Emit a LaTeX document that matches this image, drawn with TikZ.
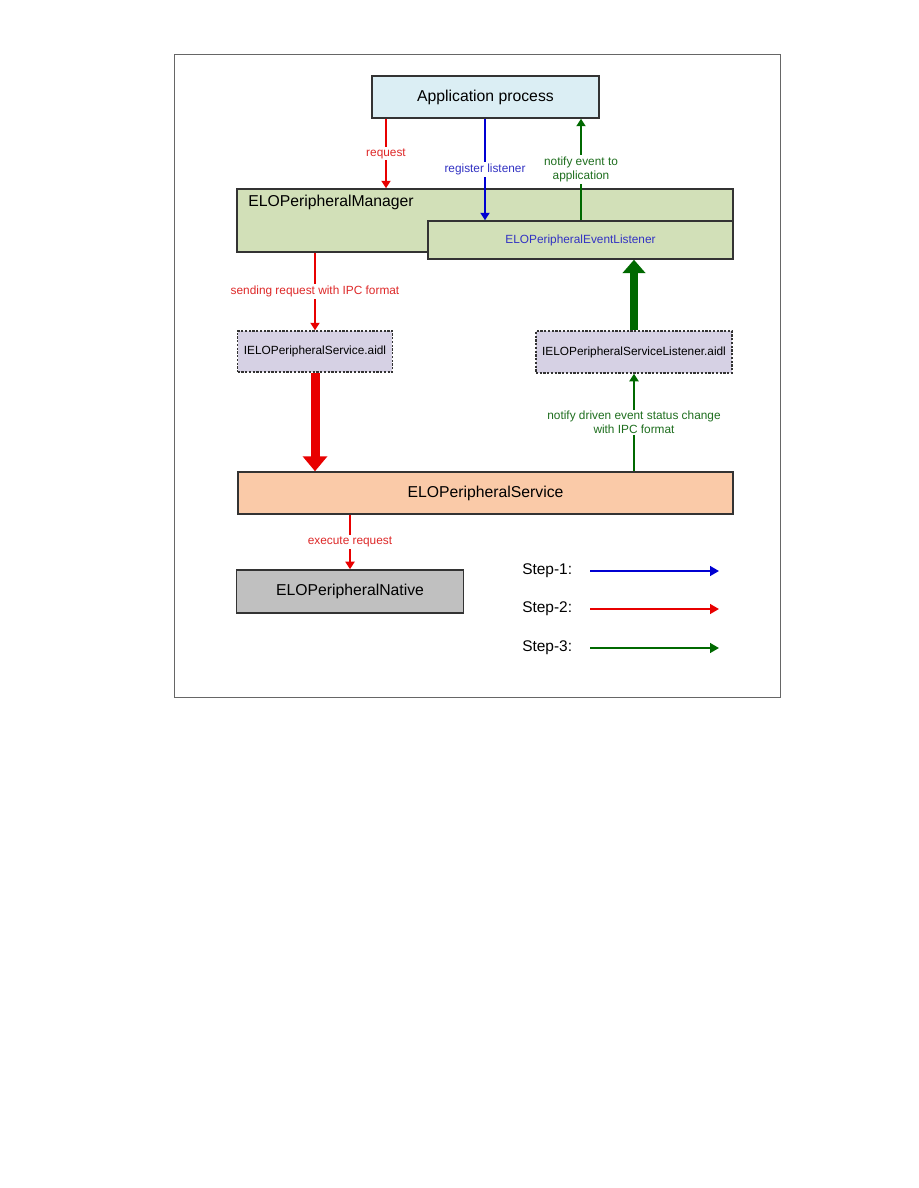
\documentclass[tikz,border=0pt]{standalone}
\usepackage{fontspec}
\setmainfont{Liberation Sans}
\usetikzlibrary{arrows.meta}

\definecolor{appfill}{RGB}{219,238,244}
\definecolor{mgrfill}{RGB}{210,224,184}
\definecolor{aidlfill}{RGB}{214,209,228}
\definecolor{srvfill}{RGB}{250,202,168}
\definecolor{ntvfill}{RGB}{192,192,192}
\definecolor{stepred}{RGB}{232,0,0}
\definecolor{stepblue}{RGB}{0,0,210}
\definecolor{stepgreen}{RGB}{0,105,0}
\definecolor{lblred}{RGB}{222,40,40}
\definecolor{lblblue}{RGB}{50,50,195}
\definecolor{lblgreen}{RGB}{30,110,30}

\begin{document}
\begin{tikzpicture}[x=0.6667pt,y=-0.6667pt,
    box/.style={draw=black!80,line width=1pt,inner sep=0pt,font=\fontsize{10.5}{12}\selectfont},
    aidl/.style={box,fill=aidlfill,dash pattern=on 1.5pt off 1pt,font=\fontsize{7.9}{9}\selectfont},
    flow/.style={line width=1.2pt,-{Triangle[width=6pt,length=5pt]}},
    bigflow/.style={line width=6pt,-{Triangle[width=16pt,length=10pt]}},
    lbl/.style={fill=white,inner sep=1pt,align=center,font=\fontsize{7.9}{9.5}\selectfont}]
    \useasboundingbox (0,0) rectangle (918,1188);
    \draw[black!60,line width=0.6pt] (174,54) rectangle (780,697);

    % boxes
    \node[box,fill=appfill,minimum width=151.3pt,minimum height=28pt] (app) at (485.5,97) {Application process};
    \node[box,fill=mgrfill,minimum width=330.7pt,minimum height=42pt] (mgr) at (485,220.5) {};
    \node[anchor=west,inner sep=0pt,font=\fontsize{10.5}{12}\selectfont] (mgrname) at (248,202) {ELOPeripheralManager};
    \node[box,fill=mgrfill,text=lblblue,font=\fontsize{7.9}{9}\selectfont,minimum width=203.3pt,minimum height=25.3pt] (lst) at (580.5,240) {ELOPeripheralEventListener};
    \node[aidl,minimum width=103.3pt,minimum height=27.3pt] (aidlsrv) at (315,351.5) {IELOPeripheralService.aidl};
    \node[aidl,minimum width=130.7pt,minimum height=28pt] (aidllst) at (634,352) {IELOPeripheralServiceListener.aidl};
    \node[box,fill=srvfill,minimum width=330pt,minimum height=28pt] (srv) at (485.5,493) {ELOPeripheralService};
    \node[box,fill=ntvfill,minimum width=151.3pt,minimum height=28.7pt] (ntv) at (350,591.5) {ELOPeripheralNative};

    \coordinate (colreq) at (386,0);
    \coordinate (colreg) at (485,0);
    \coordinate (colnot) at (581,0);

    % connectors
    \draw[flow,stepred] (app.south -| colreq) -- node[lbl,text=lblred] {request} (mgr.north -| colreq);
    \draw[flow,stepblue] (app.south -| colreg) -- node[lbl,text=lblblue] {register listener} (lst.north -| colreg);
    \draw[flow,stepgreen] (lst.north -| colnot) -- node[lbl,text=lblgreen] {notify event to\\application} (app.south -| colnot);
    \draw[flow,stepred] (aidlsrv.north |- mgr.south) -- node[lbl,text=lblred] {sending request with IPC format} (aidlsrv.north);
    \draw[bigflow,stepred] (aidlsrv.south) -- (aidlsrv.south |- srv.north);
    \draw[flow,stepgreen] (aidllst.south |- srv.north) -- node[lbl,text=lblgreen] {notify driven event status change\\with IPC format} (aidllst.south);
    \draw[bigflow,stepgreen,line width=5.3pt,-{Triangle[width=15pt,length=9pt]}] (aidllst.north) -- (aidllst.north |- lst.south);
    \draw[flow,stepred] (ntv.north |- srv.south) -- node[lbl,text=lblred] {execute request} (ntv.north);

    % legend
    \node[anchor=west,inner sep=0pt,font=\fontsize{10.3}{12}\selectfont] (st1) at (522,571) {Step-1:};
    \node[anchor=west,inner sep=0pt,font=\fontsize{10.3}{12}\selectfont] (st2) at (522,609) {Step-2:};
    \node[anchor=west,inner sep=0pt,font=\fontsize{10.3}{12}\selectfont] (st3) at (522,648) {Step-3:};
    \coordinate (s1a) at (590,571); \coordinate (s1b) at (719,571);
    \coordinate (s2a) at (590,609); \coordinate (s2b) at (719,609);
    \coordinate (s3a) at (590,648); \coordinate (s3b) at (719,648);
    \draw[stepblue,line width=1.4pt,-{Triangle[width=6.5pt,length=6pt]}] (s1a) -- (s1b);
    \draw[stepred,line width=1.4pt,-{Triangle[width=6.5pt,length=6pt]}] (s2a) -- (s2b);
    \draw[stepgreen,line width=1.4pt,-{Triangle[width=6.5pt,length=6pt]}] (s3a) -- (s3b);
\end{tikzpicture}
\end{document}
